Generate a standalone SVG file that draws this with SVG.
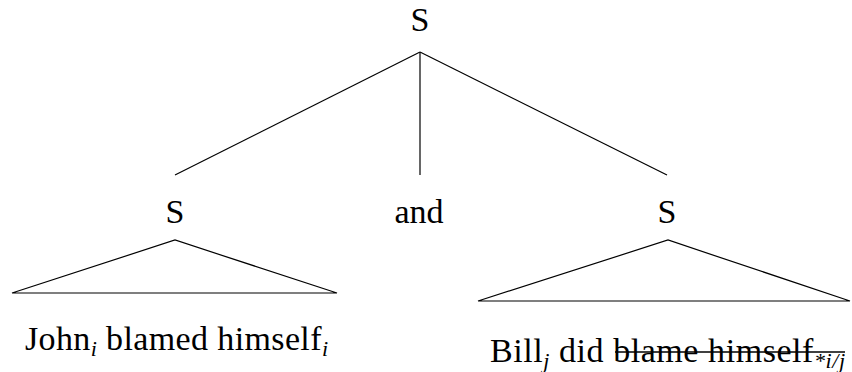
<svg xmlns="http://www.w3.org/2000/svg" width="852" height="372" viewBox="0 0 852 372">
<style>
text{font-family:"Liberation Serif","DejaVu Serif",serif;font-size:34px;fill:#000}
.sub{font-style:italic;font-size:22px}
.edge{stroke:#000;stroke-width:1.2;fill:none}
</style>
<rect width="852" height="372" fill="#fff"/>
<g id="connectors">
<line class="edge" x1="420" y1="52" x2="175" y2="175"/>
<line class="edge" x1="420" y1="52" x2="420" y2="175"/>
<line class="edge" x1="420" y1="52" x2="667" y2="175"/>
<polygon class="edge" points="12,293 175,240 337,293"/>
<polygon class="edge" points="478,301 668,240 850,301"/>
</g>
<g id="root"><text x="420" y="31" text-anchor="middle">S</text></g>
<g id="s-left"><text x="175" y="223" text-anchor="middle">S</text></g>
<g id="and"><text x="419" y="223" text-anchor="middle">and</text></g>
<g id="s-right"><text x="667" y="223" text-anchor="middle">S</text></g>
<g id="left-yield"><text x="25" y="350" textLength="303" lengthAdjust="spacing">John<tspan class="sub" dy="6">i</tspan><tspan dy="-6"> blamed himself</tspan><tspan class="sub" dy="6">i</tspan></text></g>
<g id="right-yield"><text x="490" y="362" textLength="355" lengthAdjust="spacing">Bill<tspan class="sub" dy="6">j</tspan><tspan dy="-6"> did blame himself</tspan><tspan class="sub" dy="6">*i/j</tspan></text>
<line x1="615" y1="352" x2="845" y2="352" stroke="#000" stroke-width="1.3"/></g>
</svg>
